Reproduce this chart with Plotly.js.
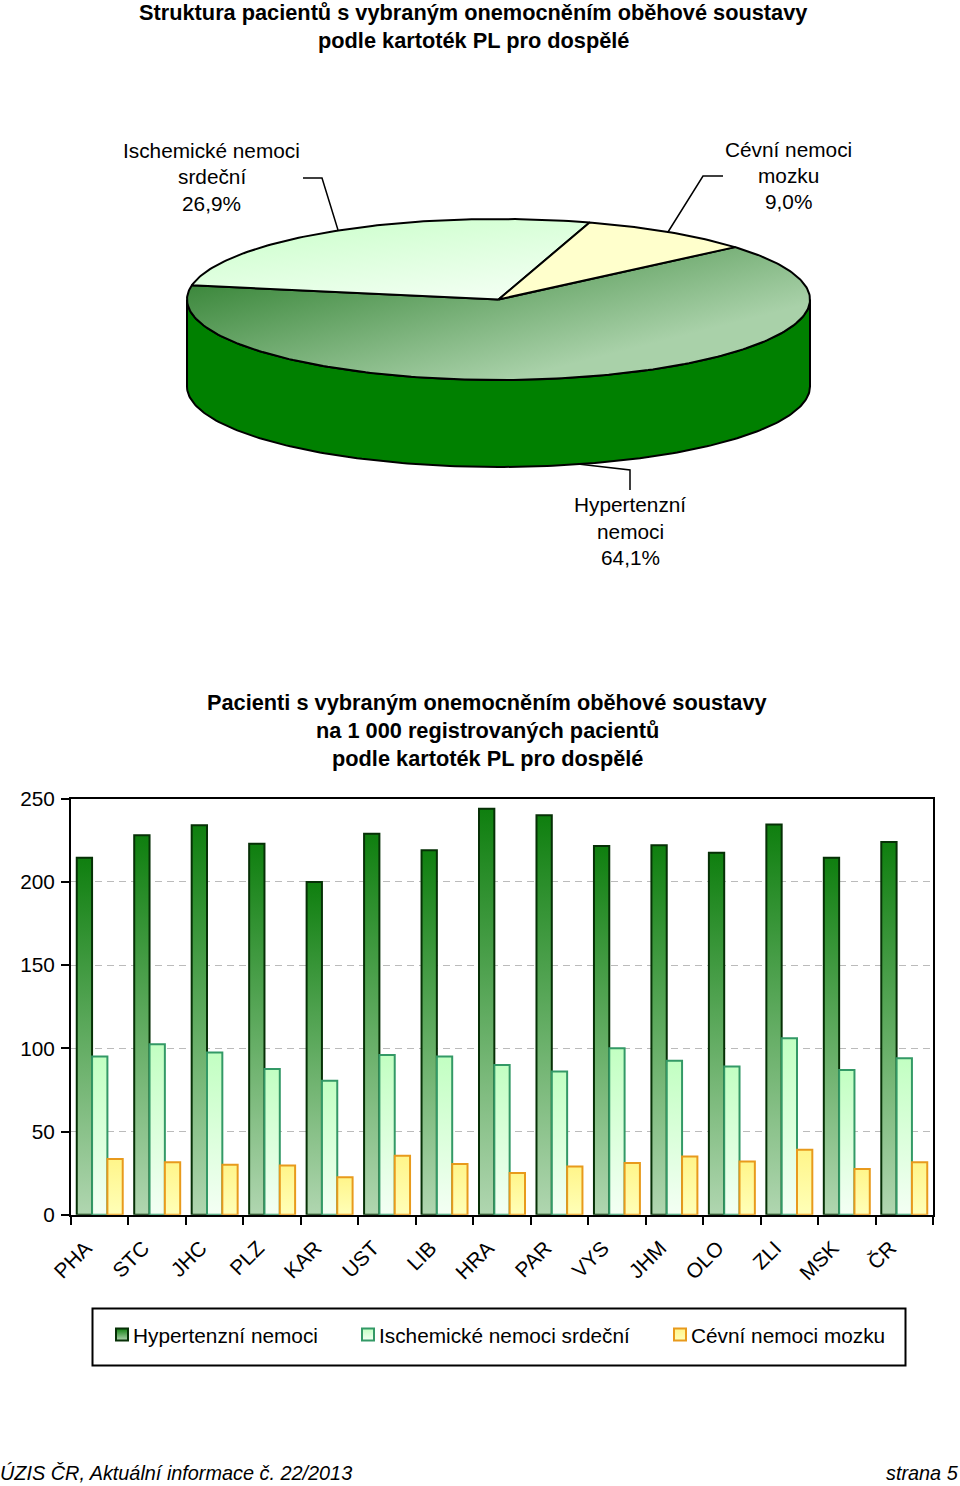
<!DOCTYPE html>
<html><head><meta charset="utf-8">
<script src="https://cdn.plot.ly/plotly-3.0.1.min.js"></script>
<style>html,body{margin:0;padding:0;background:#fff}#chart{width:960px;height:1486px}</style>
</head><body><div id="chart"></div>
<script>
const categories = ['PHA','STC','JHC','PLZ','KAR','UST','LIB','HRA','PAR','VYS','JHM','OLO','ZLI','MSK','ČR'];
const hypertension = [214.5,228,234,223,200,229,219,244,240,221.5,222,217.5,234.5,214.5,224];
const ischemic = [95,102.5,97.5,87.5,80.5,96,95,90,86,100,92.5,89,106,87,94];
const cerebro = [33.5,31.5,30,29.5,22.5,35.5,30.5,25,29,31,35,32,39,27.5,31.5];
const seriesNames = ['Hypertenzní nemoci','Ischemické nemoci srdeční','Cévní nemoci mozku'];
const pieShares = [64.1,26.9,9.0];
const font = 'Liberation Sans, Arial, sans-serif';
const W = 960, H = 1486;
const px = x => x / W, py = y => 1 - y / H;

// pie geometry: slices are derived from the shares
const cx = 498.5, cy = 299.5, rx = 311.5, ry = 80.5, depth = 87, startDeg = 40.6;
function arc(a0, a1, dy) {
  const xs = [], ys = [], n = Math.max(2, Math.ceil(Math.abs(a1 - a0)));
  for (let i = 0; i <= n; i++) {
    const t = (a0 + (a1 - a0) * i / n) * Math.PI / 180;
    xs.push(cx + rx * Math.cos(t));
    ys.push(cy - ry * Math.sin(t) + (dy || 0));
  }
  return [xs, ys];
}
function slice(a0, a1) {
  const [xs, ys] = arc(a0, a1);
  return { x: [cx, ...xs, cx], y: [cy, ...ys, cy] };
}
const a1 = startDeg - pieShares[0] * 3.6;          // clockwise: hypertension
const a2 = a1 - pieShares[1] * 3.6;                // ischemic
const a3 = a2 - pieShares[2] * 3.6;                // cerebro
const pieBase = { xaxis: 'x2', yaxis: 'y2', mode: 'lines', fill: 'toself', showlegend: false,
  hoverinfo: 'skip', line: { color: '#000', width: 2 } };
const [wx0, wy0] = arc(180, 360, 0), [wx1, wy1] = arc(360, 180, depth);
const wall = { ...pieBase, x: [...wx0, ...wx1, wx0[0]], y: [...wy0, ...wy1, wy0[0]], fillcolor: '#008000' };
const pieHyper = { ...pieBase, ...slice(startDeg, a1), fillcolor: '#6fa56f' };
const pieIsch = { ...pieBase, ...slice(a1, a2), fillcolor: '#e0ffe0' };
const pieCereb = { ...pieBase, ...slice(a2, a3), fillcolor: '#ffffcc' };

const barBase = { type: 'bar', x: categories, hoverinfo: 'x+y' };
const traces = [wall, pieHyper, pieIsch, pieCereb,
  { ...barBase, name: seriesNames[0], y: hypertension, legend: 'legend', marker: { color: '#5a9e5a', line: { color: '#063006', width: 2 } } },
  { ...barBase, name: seriesNames[1], y: ischemic, legend: 'legend2', marker: { color: '#dcffdc', line: { color: '#339966', width: 2 } } },
  { ...barBase, name: seriesNames[2], y: cerebro, legend: 'legend3', marker: { color: '#ffff99', line: { color: '#e89a1c', width: 2 } } }
];

const leaders = [
  [[303,178],[322,178],[338,230]],
  [[723,176],[703,176],[668,232]],
  [[578,464],[630,470],[630,490]]
];
const shapes = leaders.map(p => ({ type: 'path', xref: 'paper', yref: 'paper',
  path: p.map((q, i) => (i ? 'L' : 'M') + px(q[0]) + ',' + py(q[1])).join(' '),
  line: { color: '#000', width: 1.5 } }));
shapes.push({ type: 'rect', xref: 'paper', yref: 'paper', x0: px(92.5), x1: px(905.5), y0: py(1308.5), y1: py(1365.5),
  line: { color: '#000', width: 2 }, fillcolor: 'rgba(0,0,0,0)' });

const note = (text, x, y, size, extra) => ({ text, xref: 'paper', yref: 'paper', x: px(x), y: py(y), showarrow: false,
  xanchor: 'center', yanchor: 'middle', align: 'center', font: { family: font, size, color: '#000' }, ...extra });
const labelSize = 20.8, titleSize = 21.76;
const annotations = [
  note('<b>Struktura pacientů s vybraným onemocněním oběhové soustavy</b>', 473, 13, titleSize),
  note('<b>podle kartoték PL pro dospělé</b>', 473, 41, titleSize),
  note('Ischemické nemoci', 211.5, 151, labelSize),
  note('srdeční', 211.5, 177, labelSize),
  note('26,9%', 211.5, 203, labelSize),
  note('Cévní nemoci', 788.5, 149.5, labelSize),
  note('mozku', 788.5, 175.5, labelSize),
  note('9,0%', 788.5, 201.5, labelSize),
  note('Hypertenzní', 630, 505, labelSize),
  note('nemoci', 630, 531, labelSize),
  note('64,1%', 630, 557, labelSize),
  note('<b>Pacienti s vybraným onemocněním oběhové soustavy</b>', 487, 702, titleSize),
  note('<b>na 1 000 registrovaných pacientů</b>', 487, 730, titleSize),
  note('<b>podle kartoték PL pro dospělé</b>', 487, 758, titleSize),
  note('<i>ÚZIS ČR, Aktuální informace č. 22/2013</i>', -2, 1473, 19.85, { xanchor: 'left' }),
  note('<i>strana 5</i>', 961, 1473, 19.85, { xanchor: 'right' })
];
const legendBox = x => ({ x: px(x), y: py(1335), xanchor: 'left', yanchor: 'middle', bgcolor: 'rgba(0,0,0,0)',
  borderwidth: 0, font: { family: font, size: labelSize, color: '#000' } });

const layout = {
  width: W, height: H, margin: { l: 0, r: 0, t: 0, b: 0 }, paper_bgcolor: '#fff', plot_bgcolor: 'rgba(0,0,0,0)',
  font: { family: font, size: labelSize, color: '#000' },
  barmode: 'group', bargap: 0.2, bargroupgap: 0,
  xaxis: { domain: [px(71), px(933)], type: 'category', tickson: 'boundaries', ticks: 'outside', ticklen: 8, tickwidth: 2,
    tickcolor: '#000', tickangle: -45, linecolor: '#000', linewidth: 2, mirror: true, showgrid: false, anchor: 'y', fixedrange: true,
    ticklabelshift: -14, ticklabelstandoff: 11, tickfont: { family: font, size: labelSize } },
  yaxis: { domain: [py(1214.7), py(798.7)], range: [0, 250], tick0: 0, dtick: 50, ticks: 'outside', ticklen: 8, tickwidth: 2,
    tickcolor: '#000', linecolor: '#000', linewidth: 2, mirror: true, showgrid: true, gridcolor: '#bbbbbb', gridwidth: 1, griddash: '7px,5px',
    zeroline: false, anchor: 'x', fixedrange: true, ticklabelstandoff: 2, tickfont: { family: font, size: labelSize } },
  xaxis2: { domain: [0, 1], range: [0, W], visible: false, anchor: 'y2', fixedrange: true },
  yaxis2: { domain: [0, 1], range: [H, 0], visible: false, anchor: 'x2', fixedrange: true },
  legend: legendBox(93), legend2: legendBox(339), legend3: legendBox(651),
  shapes, annotations
};

function stops(id, attrs, list) {
  const NS = 'http://www.w3.org/2000/svg';
  const g = document.createElementNS(NS, 'linearGradient');
  g.setAttribute('id', id);
  Object.entries(attrs).forEach(([k, v]) => g.setAttribute(k, v));
  list.forEach(([o, c]) => {
    const s = document.createElementNS(NS, 'stop');
    s.setAttribute('offset', o); s.setAttribute('stop-color', c); g.appendChild(s);
  });
  return g;
}
Plotly.newPlot('chart', traces, layout, { staticPlot: true, displayModeBar: false }).then(gd => {
  const svg = gd.querySelector('svg.main-svg');
  const defs = svg.querySelector('defs') || svg.insertBefore(document.createElementNS('http://www.w3.org/2000/svg', 'defs'), svg.firstChild);
  const v = { x1: 0, y1: 0, x2: 0, y2: 1 };
  defs.appendChild(stops('gH', v, [[0, '#0f7f0f'], [1, '#b0d6b0']]));
  defs.appendChild(stops('gI', v, [[0, '#c2ffc2'], [1, '#f4fff4']]));
  defs.appendChild(stops('gC', v, [[0, '#fff58a'], [1, '#ffffb8']]));
  defs.appendChild(stops('gPH', { gradientUnits: 'userSpaceOnUse', x1: 190, y1: 290, x2: 231, y2: 451 }, [[0, '#3f8a3f'], [1, '#a9d1a9']]));
  defs.appendChild(stops('gPI', { x1: 0, y1: 0, x2: 0.6, y2: 1 }, [[0, '#c8ffc8'], [1, '#f0fff0']]));
  const ids = ['gH', 'gI', 'gC'];
  gd.querySelectorAll('.barlayer .trace').forEach((t, i) => {
    t.querySelectorAll('path').forEach(p => { p.style.fill = 'url(#' + ids[i] + ')'; });
  });
  const fills = gd.querySelectorAll('.scatterlayer .trace .js-fill');
  if (fills[1]) fills[1].style.fill = 'url(#gPH)';
  if (fills[2]) fills[2].style.fill = 'url(#gPI)';
  gd.querySelectorAll('.legendpoints').forEach((lp, i) => {
    lp.setAttribute('transform', 'translate(9,0)');
    lp.querySelectorAll('path').forEach(p => { p.style.fill = 'url(#' + ids[i] + ')'; });
  });
});
</script></body></html>
